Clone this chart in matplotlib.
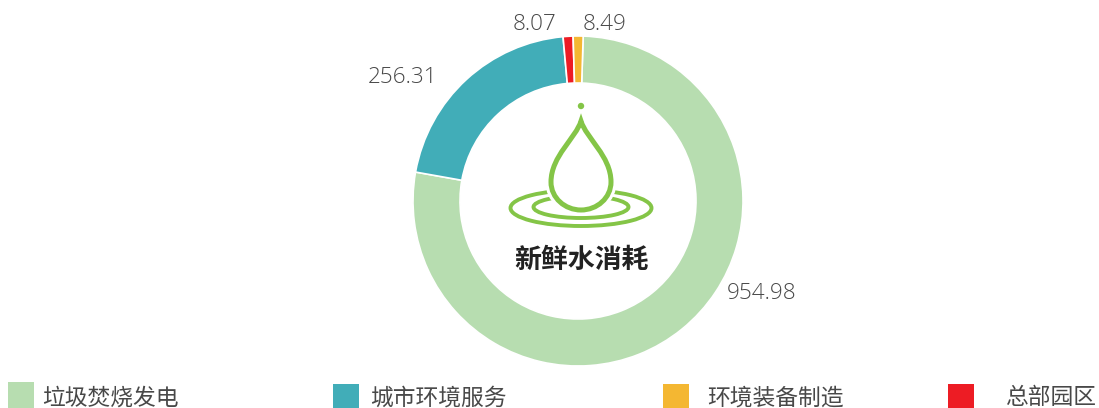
import matplotlib
matplotlib.use("Agg")
import matplotlib.pyplot as plt
from matplotlib.patches import Circle, Ellipse, PathPatch, Rectangle
from matplotlib.path import Path
import numpy as np

plt.rcParams['font.family'] = ['Noto Sans CJK SC', 'DejaVu Sans']

# clockwise from the top
categories = ['垃圾焚烧发电', '城市环境服务', '总部园区', '环境装备制造']
values = [954.98, 256.31, 8.07, 8.49]
value_labels = ['954.98', '256.31', '8.07', '8.49']
colors = ['#b7ddb0', '#41adb8', '#ed1c24', '#f4b732']

legend_order = ['垃圾焚烧发电', '城市环境服务', '环境装备制造', '总部园区']
legend_colors = ['#b7ddb0', '#41adb8', '#f4b732', '#ed1c24']
legend_x = [8, 333, 663, 948]
legend_text_x = [42, 370, 707, 1005]
legend_top = [382, 384, 384, 384]

label_pos = [(762, 292), (403, 76), (535, 23), (605, 23)]

W, H = 1099, 408
GREEN = '#84c547'
TEXT = '#484848'
MIN_ANGLE = 3.5  # the tiny slices are drawn wider than their share


def py(y):
    # picture pixels count from the top
    return H - y


vals = np.array(values)
small = vals / vals.sum() * 360 < MIN_ANGLE
angles = np.where(small, MIN_ANGLE, 0.0)
angles[~small] = vals[~small] / vals[~small].sum() * (360 - angles.sum())

fig = plt.figure(figsize=(W / 100, H / 100), dpi=100)
ax = fig.add_axes([0, 0, 1, 1])

ax.pie(angles, colors=colors, startangle=88.2, counterclock=False,
       center=(578, py(201)), radius=165,
       wedgeprops=dict(width=47, edgecolor='white', linewidth=1.2))
ax.set_xlim(0, W)
ax.set_ylim(0, H)
ax.set_aspect('equal')
ax.axis('off')

for txt, (x, y) in zip(value_labels, label_pos):
    ax.text(x, py(y + 1.5), txt, fontsize=16.2, color=TEXT, family='Open Sans', fontweight='light',
            ha='center', va='center')

# legend
for name, c, x, tx, top in zip(legend_order, legend_colors, legend_x, legend_text_x, legend_top):
    ax.add_patch(Rectangle((x, 0), 25.5, py(top), facecolor=c, edgecolor='none'))
    ax.text(tx, py(398), name, fontsize=16.4, color=TEXT, fontweight='light',
            ha='left', va='center')

# water drop logo
ax.add_patch(Ellipse((581, py(208)), 141, 36, fill=False, edgecolor=GREEN, linewidth=2.8))
ax.add_patch(Ellipse((581, py(207)), 95, 22, fill=False, edgecolor=GREEN, linewidth=2.8))

drop = Path(
    [(581, py(121)),
     (576, py(138)), (551, py(156)), (551, py(182)),
     (551, py(198)), (565, py(210)), (581, py(210)),
     (597, py(210)), (611, py(198)), (611, py(182)),
     (611, py(156)), (586, py(138)), (581, py(121)),
     (581, py(121))],
    [Path.MOVETO] + [Path.CURVE4] * 12 + [Path.CLOSEPOLY])
ax.add_patch(PathPatch(drop, facecolor='white', edgecolor='white', linewidth=8, zorder=3))
ax.add_patch(PathPatch(drop, facecolor='white', edgecolor=GREEN, linewidth=3.6, zorder=4))
ax.add_patch(Circle((581, py(106)), 3.2, facecolor=GREEN, edgecolor='none', zorder=4))

ax.text(581, py(260), '新鲜水消耗', fontsize=19.4, fontweight='bold', color='#222222',
        ha='center', va='center', zorder=5)

fig.savefig('out.png', dpi=100, facecolor='white')
